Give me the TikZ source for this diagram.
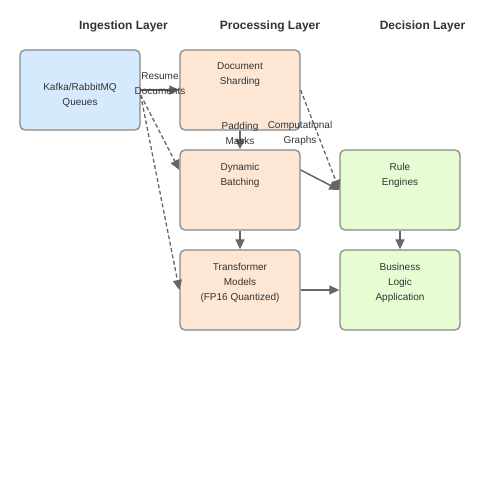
\documentclass[tikz,border=0pt]{standalone}
\usepackage{fontspec}
\setmainfont{Liberation Sans}
\usepackage{tikz}
\usetikzlibrary{arrows.meta}

\definecolor{ingfill}{HTML}{D5EBFD}
\definecolor{procfill}{HTML}{FEE6D4}
\definecolor{decfill}{HTML}{E6FDD4}
\definecolor{boxline}{HTML}{888888}
\definecolor{flowline}{HTML}{666666}
\definecolor{txtcol}{HTML}{333333}

\begin{document}
\begin{tikzpicture}[x=1pt, y=-1pt,
    box/.style={draw=boxline, line width=1.3pt, rounded corners=5pt, minimum width=120pt, minimum height=80pt, inner sep=0pt},
    boxtext/.style={anchor=north, align=center, inner sep=0pt, text=txtcol, font=\fontsize{10}{15}\selectfont},
    layer/.style={anchor=base, inner sep=0pt, text=txtcol, font=\fontsize{12}{14}\selectfont\bfseries},
    flowlabel/.style={align=center, inner sep=0pt, text=txtcol, font=\fontsize{10}{15}\selectfont},
    flow/.style={draw=flowline, line width=1.5pt},
    arr/.style={flow, -{Triangle[length=10pt, width=9pt]}},
    dashflow/.style={dash pattern=on 4pt off 2.5pt, line width=1.3pt}]

    \useasboundingbox (0,0) rectangle (500,500);

    \node[layer] (ing) at (123.5,29.3) {Ingestion Layer};
    \node[layer] (proc) at (270,29.3) {Processing Layer};
    \node[layer] (dec) at (422.5,29.3) {Decision Layer};

    \node[box, fill=ingfill] (kafka) at (80,90) {};
    \node[boxtext] (kafkat) at (80,83) {Kafka/RabbitMQ\\Queues};

    \node[box, fill=procfill] (doc) at (240,90) {};
    \node[boxtext] (doct) at (240,62.8) {Document\\Sharding};

    \node[box, fill=procfill] (dyn) at (240,190) {};
    \node[boxtext] (dynt) at (240,162.8) {Dynamic\\Batching};

    \node[box, fill=procfill] (trans) at (240,290) {};
    \node[boxtext] (transt) at (240,262.8) {Transformer\\Models\\(FP16 Quantized)};

    \node[box, fill=decfill] (rule) at (400,190) {};
    \node[boxtext] (rulet) at (400,162.8) {Rule\\Engines};

    \node[box, fill=decfill] (biz) at (400,290) {};
    \node[boxtext] (bizt) at (400,262.8) {Business\\Logic\\Application};

    \draw[arr] (kafka.east) to (doc.west);
    \draw[arr, dashflow] ([yshift=-5pt]kafka.east) to ([yshift=20pt]dyn.west);
    \draw[arr, dashflow] ([yshift=-5pt]kafka.east) to (trans.west);
    \draw[arr] (doc.south) to (dyn.north);
    \draw[arr, dashflow] (doc.east) to (rule.west);
    \draw[arr] ([yshift=20pt]dyn.east) to (rule.west);
    \draw[arr] (dyn.south) to (trans.north);
    \draw[arr] (trans.east) to (biz.west);
    \draw[arr] (rule.south) to (biz.north);

    \node[flowlabel] (resume) at (160,83.5) {Resume\\Documents};
    \node[flowlabel] (pad) at (240,133.5) {Padding\\Masks};
    \node[flowlabel] (graph) at (300,133.5) {Computational\\Graphs};

\end{tikzpicture}
\end{document}
